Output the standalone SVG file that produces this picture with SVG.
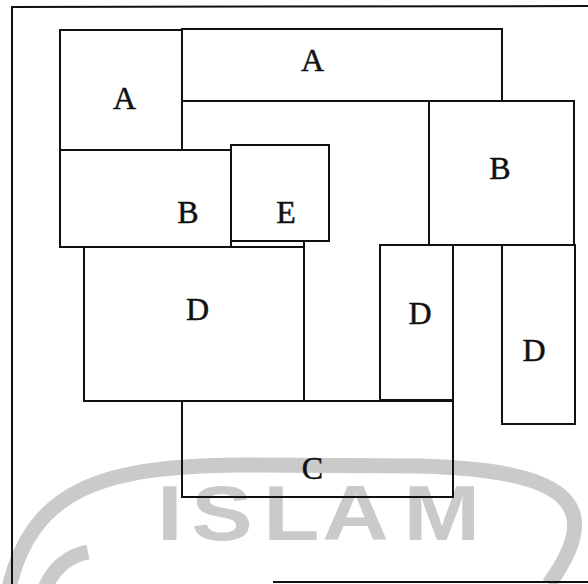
<svg xmlns="http://www.w3.org/2000/svg" width="588" height="584" viewBox="0 0 588 584">
<style>
.box{fill:none;stroke:#111;stroke-width:2}
.lbl{font-family:"Liberation Serif","Times New Roman",serif;font-size:32px;fill:#111;stroke:#111;stroke-width:0.5;text-anchor:middle}
.wm{fill:none;stroke:#cacaca;stroke-width:15}
.wmt{font-family:"Liberation Sans",Arial,sans-serif;font-weight:bold;font-size:78px;fill:#cacaca}
.frame{fill:none;stroke:#111;stroke-width:2}
</style>
<rect width="588" height="584" fill="#fff"/>
<g id="watermark">
<path class="wm" d="M 8 592 C 30 490 100 466 240 465 L 420 466 C 560 470 610 500 549 584"/>
<path class="wm" stroke-width="10" d="M 45 588 Q 58 558 88 552"/>
<text class="wmt" transform="scale(1.18,1)" x="133 162 223 273 342" y="540">ISLAM</text>
</g>
<g id="frame">
<path class="frame" d="M 12 584 L 12 7 L 588 6"/>
<path class="frame" d="M 273 582 L 588 582"/>
</g>
<g id="A1"><rect class="box" x="60" y="30" width="122" height="120"/><text class="lbl" x="124.5" y="109">A</text></g>
<g id="A2"><rect class="box" x="182" y="29" width="320" height="72"/><text class="lbl" x="312.5" y="71">A</text></g>
<g id="B1"><rect class="box" x="60" y="150" width="171" height="97"/><text class="lbl" x="188" y="223">B</text></g>
<g id="E"><rect class="box" x="231" y="145" width="98" height="96"/><text class="lbl" x="286" y="223">E</text></g>
<g id="B2"><rect class="box" x="429" y="101" width="145" height="144"/><text class="lbl" x="500" y="179">B</text></g>
<g id="D1"><rect class="box" x="84" y="247" width="220" height="154"/><path class="box" d="M 304 241 L 304 247"/><text class="lbl" x="197.5" y="320">D</text></g>
<g id="D2"><rect class="box" x="380" y="245" width="73" height="155"/><text class="lbl" x="420" y="324">D</text></g>
<g id="D3"><rect class="box" x="502" y="245" width="73" height="179"/><text class="lbl" x="534" y="361">D</text></g>
<g id="C"><rect class="box" x="182" y="401" width="271" height="96"/><text class="lbl" x="312.5" y="479">C</text></g>
</svg>
